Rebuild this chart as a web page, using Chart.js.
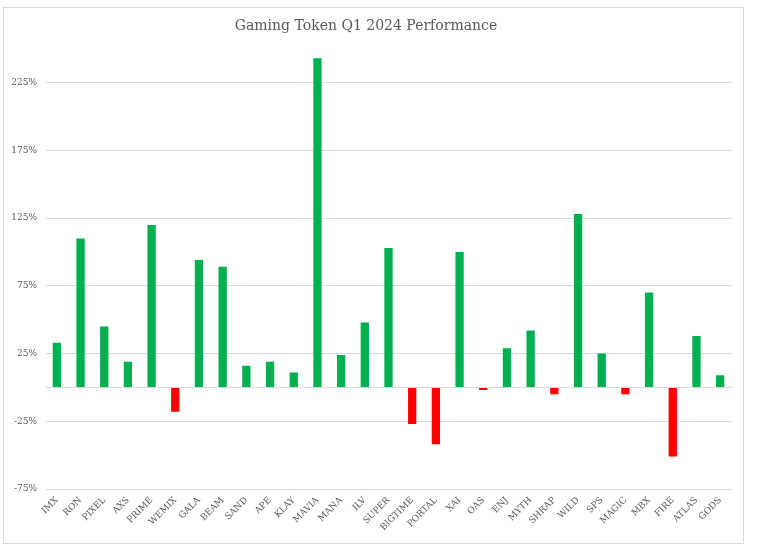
<!DOCTYPE html>
<html>
<head>
<meta charset="utf-8">
<script src="https://cdn.jsdelivr.net/npm/chart.js@4"></script>
<style>
  html, body { margin: 0; padding: 0; background: #fff; }
  #wrap { position: relative; width: 758px; height: 559px; }
  #frame { position: absolute; left: 3px; top: 7px; width: 739px; height: 535px; border: 1px solid #d9d9d9; }
  #perfChart { position: absolute; left: 0; top: 0; }
</style>
</head>
<body>
<div id="wrap">
  <div id="frame"></div>
  <canvas id="perfChart" width="758" height="559"></canvas>
</div>
<script>
  // token names, left to right
  const tokens = ["IMX", "RON", "PIXEL", "AXS", "PRIME", "WEMIX", "GALA", "BEAM", "SAND", "APE",
    "KLAY", "MAVIA", "MANA", "ILV", "SUPER", "BIGTIME", "PORTAL", "XAI", "OAS", "ENJ",
    "MYTH", "SHRAP", "WILD", "SPS", "MAGIC", "MBX", "FIRE", "ATLAS", "GODS"];

  // Q1 2024 performance in %
  const perf = [33, 110, 45, 19, 120, -18, 94, 89, 16, 19,
    11, 243, 24, 48, 103, -27, -42, 100, -2, 29,
    42, -5, 128, 25, -5, 70, -51, 38, 9];

  const yTicks = [-75, -25, 0, 25, 75, 125, 175, 225];
  const yMin = -75;
  const yMax = 250;

  const GREEN = "#00b050";
  const RED = "#ff0000";
  const TEXT = "#595959";
  const FONT = "'DejaVu Serif', 'Liberation Serif', serif";

  var ctx = document.getElementById("perfChart").getContext("2d");

  var chart = new Chart(ctx, {
    type: "bar",
    data: {
      labels: tokens,
      datasets: [{
        label: "Q1 2024",
        data: perf,
        backgroundColor: (c) => (c.raw < 0 ? RED : GREEN),
        borderWidth: 0,
        barPercentage: 0.7,
        categoryPercentage: 0.5
      }]
    },
    options: {
      responsive: false,
      animation: false,
      layout: { padding: { left: 0, right: 26, top: 0, bottom: 0 } },
      plugins: {
        legend: { display: false },
        tooltip: { enabled: false },
        title: {
          display: true,
          text: "Gaming Token Q1 2024 Performance",
          color: TEXT,
          font: { family: FONT, size: 14, weight: "normal" },
          padding: { top: 18, bottom: 14 }
        }
      },
      scales: {
        x: {
          grid: { display: false, drawTicks: false },
          border: { display: false },
          ticks: {
            color: TEXT,
            font: { family: FONT, size: 9 },
            minRotation: 45,
            maxRotation: 45,
            autoSkip: false,
            padding: 6
          },
          afterFit: (scale) => { scale.height = 70; }
        },
        y: {
          min: yMin,
          max: yMax,
          grid: { color: "#d9d9d9", lineWidth: 1, drawTicks: false },
          border: { display: false },
          afterBuildTicks: (scale) => {
            scale.ticks = yTicks.map((v) => ({ value: v }));
          },
          ticks: {
            color: TEXT,
            font: { family: FONT, size: 9 },
            padding: 8,
            callback: (v) => (v === 0 ? "" : v + "%")
          },
          afterFit: (scale) => { scale.width = 45; }
        }
      }
    }
  });
</script>
</body>
</html>
